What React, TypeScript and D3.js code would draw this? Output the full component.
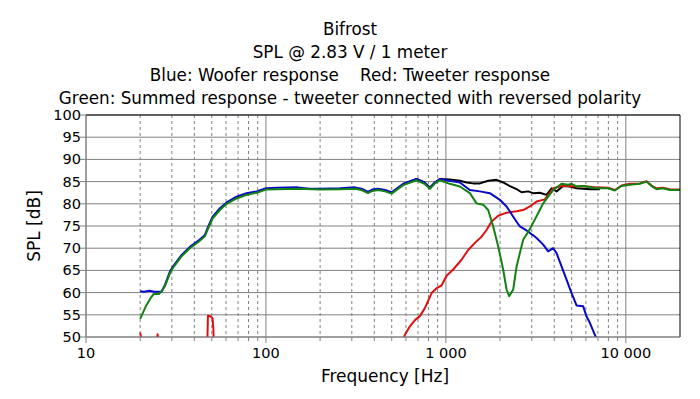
import React from "react";
import * as d3 from "d3";

// frequency response data: [Hz, dB]
const woofer: [number, number][] = [
  [20, 60.3], [21, 60.2], [22.5, 60.4], [24, 60.2], [26.3, 60.2], [27.5, 61.8],
  [29.3, 64.8], [30.5, 65.9], [34, 68.5], [37.8, 70.3], [42.1, 71.7], [45.8, 73.0],
  [47.8, 74.9], [50.6, 77.1], [55.5, 79.0], [60.5, 80.3], [68.7, 81.6], [78, 82.4],
  [88.8, 82.8], [100, 83.5], [115, 83.6], [150, 83.7], [175, 83.4], [200, 83.4],
  [258, 83.5], [312, 83.7], [340, 83.4], [369, 82.7], [390, 83.2], [419, 83.4],
  [460, 83.1], [499, 82.6], [540, 83.6], [579, 84.5], [687, 85.6], [760, 84.8],
  [815, 83.6], [870, 84.8], [926, 85.6], [1052, 85.2], [1196, 84.8], [1359, 83.1],
  [1545, 82.8], [1755, 82.4], [1995, 80.9], [2174, 79.4], [2367, 77.1], [2577, 74.9],
  [2806, 74.0], [3055, 72.9], [3190, 72.3], [3474, 70.8], [3701, 69.3], [3947, 70.0],
  [4121, 68.9], [4393, 65.9], [4684, 62.9], [4993, 59.9], [5322, 57.1], [5797, 56.9],
  [6051, 54.6], [6310, 53.2], [6728, 50.5], [7000, 49],
];

const tweeter: [number, number][] = [
  [20, 51], [20.4, 49], [22, 44], [24.6, 48], [25, 50.6], [25.4, 48], [28, 44],
  [40, 42], [47.2, 48], [47.6, 54.8], [49.5, 54.6], [50.5, 54.2], [51, 52], [51.4, 48],
  [53, 43], [100, 38], [300, 38], [540, 46], [592, 50.5], [631, 52.4], [673, 53.8],
  [717, 54.7], [764, 56.5], [833, 59.9], [888, 61.0], [946, 61.6], [1009, 63.8],
  [1098, 65.2], [1222, 67.4], [1330, 69.6], [1449, 71.2], [1579, 72.6], [1683, 74.1],
  [1795, 76.0], [1953, 77.3], [2174, 78.0], [2471, 78.3], [2688, 78.6], [2929, 79.4],
  [3190, 80.5], [3548, 81.0], [3783, 82.5], [3947, 83.5], [4393, 84.0], [4780, 84.0],
  [5322, 83.9], [5797, 84.0], [6871, 83.7], [7975, 83.6], [8688, 83.1], [9462, 84.1],
  [10520, 84.5], [11960, 84.6], [13030, 85.1], [13900, 84.1], [14810, 83.5],
  [16110, 83.6], [17550, 83.3], [20000, 83.2],
];

const summedReversed: [number, number][] = [
  [20, 54.1], [21.5, 56.9], [22.9, 58.8], [23.8, 59.7], [25.5, 59.7], [26.6, 60.6],
  [27.5, 61.5], [29.3, 64.4], [30.5, 65.6], [34, 68.2], [37.8, 70.0], [42.1, 71.4],
  [45.8, 72.7], [47.8, 74.5], [50.6, 76.7], [55.5, 78.6], [60.5, 80.0], [68.7, 81.2],
  [78, 82.0], [88.8, 82.5], [100, 83.2], [115, 83.3], [150, 83.4], [200, 83.2],
  [258, 83.3], [312, 83.4], [340, 83.1], [369, 82.4], [390, 82.9], [419, 83.1],
  [460, 82.8], [499, 82.3], [540, 83.3], [579, 84.2], [687, 85.3], [760, 84.5],
  [815, 83.4], [870, 84.6], [926, 85.3], [1052, 84.5], [1196, 83.9], [1359, 82.4],
  [1481, 80.1], [1611, 79.8], [1718, 78.6], [1832, 74.9], [1953, 70.4], [2081, 65.2],
  [2174, 60.7], [2247, 59.2], [2367, 60.7], [2471, 65.9], [2688, 71.9], [2929, 74.3],
  [3326, 78.6], [3474, 80.1], [3701, 81.6], [3947, 83.1], [4393, 84.5], [4780, 84.3],
  [4993, 84.5], [5322, 83.9], [5797, 84.0], [6871, 83.5], [7975, 83.5], [8688, 83.0],
  [9462, 84.0], [10520, 84.3], [11960, 84.5], [13030, 85.0], [13900, 84.0],
  [14810, 83.3], [16110, 83.5], [17550, 83.1], [20000, 83.1],
];

const summedNormal: [number, number][] = [
  [579, 84.5], [687, 85.6], [760, 84.8], [815, 83.6], [870, 84.8], [926, 85.6],
  [1052, 85.5], [1196, 85.2], [1303, 84.8], [1418, 84.6], [1545, 84.6], [1718, 85.2],
  [1913, 85.4], [2081, 84.8], [2268, 84.0], [2471, 83.3], [2634, 82.6], [2865, 82.8],
  [3055, 82.4], [3326, 82.5], [3627, 82.0], [3866, 83.5], [4121, 82.8], [4484, 84.0],
  [4885, 83.9], [5322, 83.5], [6310, 83.3], [7171, 83.3],
];

const titleLines = [
  "Bifrost",
  "SPL @ 2.83 V / 1 meter",
  "Blue: Woofer response    Red: Tweeter response",
  "Green: Summed response - tweeter connected with reversed polarity",
];
const yTicks = [50, 55, 60, 65, 70, 75, 80, 85, 90, 95, 100];
const decades = [10, 100, 1000, 10000];
const decadeLabels = ["10", "100", "1 000", "10 000"];

const W = 700;
const H = 399;
const left = 86;
const right = 680;
const top = 115;
const bottom = 337;
const font = "'DejaVu Sans', Verdana, sans-serif";

const App = () => {
  const x = d3.scaleLog().domain([10, 20000]).range([left, right]);
  const y = d3.scaleLinear().domain([50, 100]).range([bottom, top]);

  // minor grid: 2..9 times each decade, inside the domain
  const minors: number[] = [];
  decades.forEach((d) => {
    for (let k = 2; k <= 9; k++) if (d * k < 20000) minors.push(d * k);
  });

  const line = d3
    .line<[number, number]>()
    .x((d) => x(d[0]))
    .y((d) => y(d[1]));

  const series = [
    { data: summedNormal, color: "#000000" },
    { data: tweeter, color: "#dd1111" },
    { data: woofer, color: "#0808c8" },
    { data: summedReversed, color: "#128212" },
  ];

  return (
    <svg
      width={W}
      height={H}
      style={{ position: "absolute", left: 0, top: 0, background: "#fff" }}
    >
      <defs>
        <clipPath id="plot">
          <rect x={left} y={top} width={right - left} height={bottom - top} />
        </clipPath>
      </defs>

      {titleLines.map((t, i) => (
        <text
          key={t}
          x={W / 2}
          y={35 + i * 23}
          textAnchor="middle"
          fontFamily={font}
          fontSize={16.8}
          style={{ whiteSpace: "pre" }}
        >
          {t}
        </text>
      ))}

      {/* horizontal grid */}
      {yTicks.map((v) => (
        <g key={v}>
          <line x1={left} x2={right} y1={y(v)} y2={y(v)} stroke="#808080" />
          <line x1={left - 6} x2={left} y1={y(v)} y2={y(v)} stroke="#808080" />
          <text
            x={left - 5}
            y={y(v) + 5}
            textAnchor="end"
            fontFamily={font}
            fontSize={14.5}
          >
            {v}
          </text>
        </g>
      ))}

      {/* vertical grid */}
      {minors.map((f) => (
        <g key={f}>
          <line
            x1={x(f)}
            x2={x(f)}
            y1={top}
            y2={bottom}
            stroke="#808080"
            strokeDasharray="3,3"
          />
          <line x1={x(f)} x2={x(f)} y1={bottom} y2={bottom + 4} stroke="#808080" />
        </g>
      ))}
      {decades.map((f, i) => (
        <g key={f}>
          <line x1={x(f)} x2={x(f)} y1={top} y2={bottom + 6} stroke="#808080" />
          <text
            x={x(f)}
            y={bottom + 21}
            textAnchor="middle"
            fontFamily={font}
            fontSize={14.5}
          >
            {decadeLabels[i]}
          </text>
        </g>
      ))}

      <g clipPath="url(#plot)">
        {series.map((s, i) => (
          <path
            key={i}
            d={line(s.data) || ""}
            fill="none"
            stroke={s.color}
            strokeWidth={2}
            strokeLinejoin="round"
          />
        ))}
      </g>

      {/* frame: top and right black, left and bottom gray */}
      <line x1={left} x2={right} y1={top} y2={top} stroke="#000" />
      <line x1={right} x2={right} y1={top} y2={bottom} stroke="#000" />
      <line x1={left} x2={left} y1={top} y2={bottom} stroke="#808080" />
      <line x1={left} x2={right} y1={bottom} y2={bottom} stroke="#808080" />

      <text
        x={385}
        y={382}
        textAnchor="middle"
        fontFamily={font}
        fontSize={17}
      >
        Frequency [Hz]
      </text>
      <text
        transform={`translate(40, 226) rotate(-90)`}
        textAnchor="middle"
        fontFamily={font}
        fontSize={17}
      >
        SPL [dB]
      </text>
    </svg>
  );
};

export default App;
